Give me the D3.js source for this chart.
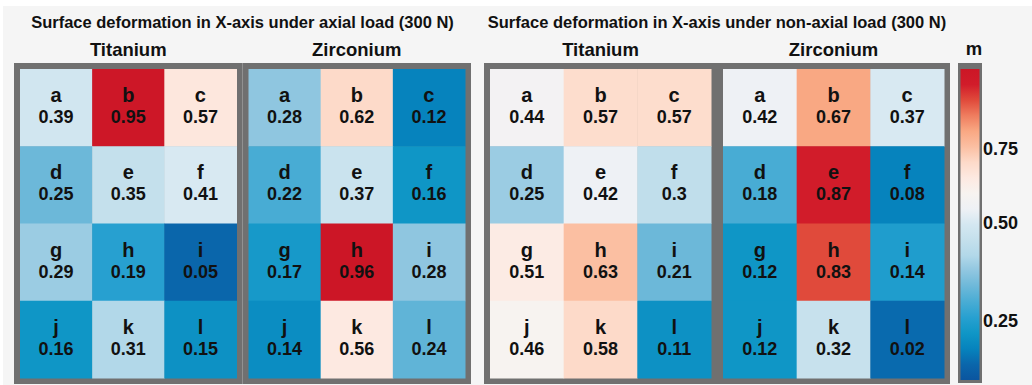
<!DOCTYPE html>
<html>
<head>
<meta charset="utf-8">
<script src="https://cdn.jsdelivr.net/npm/d3@7"></script>
<style>
  body { margin: 0; background: #ffffff; }
  svg { display: block; }
  text { font-family: "Liberation Sans", Arial, sans-serif; fill: #111; }
</style>
</head>
<body>
<svg id="chart" width="1032" height="385"></svg>
<script>
// ---- data ----------------------------------------------------------------
const cellLabels = ["a", "b", "c", "d", "e", "f", "g", "h", "i", "j", "k", "l"];
const materials = ["Titanium", "Zirconium"];
const loadTitles = [
  "Surface deformation in X-axis under axial load (300 N)",
  "Surface deformation in X-axis under non-axial load (300 N)"
];
const axialTitanium     = [0.39, 0.95, 0.57, 0.25, 0.35, 0.41, 0.29, 0.19, 0.05, 0.16, 0.31, 0.15];
const axialZirconium    = [0.28, 0.62, 0.12, 0.22, 0.37, 0.16, 0.17, 0.96, 0.28, 0.14, 0.56, 0.24];
const nonAxialTitanium  = [0.44, 0.57, 0.57, 0.25, 0.42, 0.30, 0.51, 0.63, 0.21, 0.46, 0.58, 0.11];
const nonAxialZirconium = [0.42, 0.67, 0.37, 0.18, 0.87, 0.08, 0.12, 0.83, 0.14, 0.12, 0.32, 0.02];
const legendTicks = [0.25, 0.50, 0.75];
const legendUnit = "m";

// ---- colour ramp (blue = small, red = large) -----------------------------
const rampValues = [0.02, 0.05, 0.12, 0.16, 0.19, 0.22, 0.25, 0.28, 0.31, 0.35, 0.40,
                    0.46, 0.50, 0.56, 0.62, 0.67, 0.71, 0.78, 0.87, 0.91, 0.96];
const rampColors = ["#0b559f", "#0a66ab", "#0683bd", "#0f96c6", "#27a0d0", "#48acd4",
                    "#6cb8d9", "#8fc6e0", "#b2d8e9", "#c4e0ec", "#d4e7f1", "#eef1f5",
                    "#f7f3f0", "#fde9e1", "#fddac9", "#fbbfa2", "#f9a883", "#ef7d5f",
                    "#e04a3b", "#d11c2a", "#cc1626"];

// each load case has its own colour mapping; the non-axial one is shifted down
const loadShift = [0, -0.04];
const colorScales = loadShift.map(s =>
  d3.scaleLinear().domain(rampValues.map(v => v + s)).range(rampColors).clamp(true));

const grids = [[axialTitanium, axialZirconium], [nonAxialTitanium, nonAxialZirconium]];

// ---- layout --------------------------------------------------------------
const W = 1032, H = 385;
const svg = d3.select("#chart");
const border = 6;
const boxTop = 63, boxBottom = 384;
const groupRanges = [[14, 471], [484, 950]];
const gray = "#707070";

svg.append("rect").attr("x", 3).attr("y", 6).attr("width", W - 3).attr("height", H - 6)
  .attr("fill", "#f5f5f5");

const rowScale = d3.scaleBand().domain(d3.range(4))
  .range([boxTop + border, boxBottom - border]);

groupRanges.forEach((range, gi) => {
  const matScale = d3.scaleBand().domain(materials).range(range);
  const g = svg.append("g");

  g.append("text")
    .attr("x", (range[0] + range[1]) / 2).attr("y", 28)
    .attr("text-anchor", "middle")
    .attr("font-size", 16.5).attr("font-weight", "bold")
    .text(loadTitles[gi]);

  materials.forEach((mat, mi) => {
    const x0 = matScale(mat), bw = matScale.bandwidth();
    g.append("text")
      .attr("x", x0 + bw / 2).attr("y", 56)
      .attr("text-anchor", "middle")
      .attr("font-size", 18.5).attr("font-weight", "bold")
      .text(mat);

    g.append("rect")
      .attr("x", x0).attr("y", boxTop)
      .attr("width", bw).attr("height", boxBottom - boxTop)
      .attr("fill", gray);

    const colScale = d3.scaleBand().domain(d3.range(3))
      .range([x0 + border, x0 + bw - border]);
    const values = grids[gi][mi];
    const color = colorScales[gi];

    const cells = g.selectAll(null)
      .data(values.map((v, i) => ({ v, label: cellLabels[i], r: Math.floor(i / 3), c: i % 3 })))
      .join("g")
      .attr("transform", d => `translate(${colScale(d.c)},${rowScale(d.r)})`);

    cells.append("rect")
      .attr("width", colScale.bandwidth() + 0.5)
      .attr("height", rowScale.bandwidth() + 0.5)
      .attr("fill", d => color(d.v));

    cells.append("text")
      .attr("x", colScale.bandwidth() / 2).attr("y", 33)
      .attr("text-anchor", "middle")
      .attr("font-size", 20).attr("font-weight", "bold")
      .text(d => d.label);

    cells.append("text")
      .attr("x", colScale.bandwidth() / 2).attr("y", 54)
      .attr("text-anchor", "middle")
      .attr("font-size", 18).attr("font-weight", "bold")
      .text(d => String(d.v));
  });
});

// ---- colour bar ----------------------------------------------------------
const barX = 958, barW = 24, barSide = 2.5;
const barInnerTop = boxTop + border, barInnerBottom = 380;

svg.append("rect")
  .attr("x", barX).attr("y", boxTop)
  .attr("width", barW).attr("height", boxBottom - 1 - boxTop)
  .attr("fill", gray);

const defs = svg.append("defs");
const grad = defs.append("linearGradient").attr("id", "ramp")
  .attr("x1", 0).attr("y1", 1).attr("x2", 0).attr("y2", 0);
grad.selectAll("stop").data(rampColors).join("stop")
  .attr("offset", (d, i) => i / (rampColors.length - 1))
  .attr("stop-color", d => d);

svg.append("rect")
  .attr("x", barX + barSide).attr("y", barInnerTop)
  .attr("width", barW - 2 * barSide).attr("height", barInnerBottom - barInnerTop)
  .attr("fill", "url(#ramp)");

const legendScale = d3.scalePow().exponent(0.5)
  .domain([0.14, 1.07]).range([barInnerBottom, barInnerTop]);

const axis = svg.append("g")
  .attr("transform", `translate(${barX + barW},0)`)
  .call(d3.axisRight(legendScale).tickValues(legendTicks).tickSize(0).tickPadding(1)
    .tickFormat(d3.format(".2f")));
axis.select(".domain").remove();
axis.selectAll("text")
  .attr("font-size", 18).attr("font-weight", "bold")
  .style("font-family", "\"Liberation Sans\", Arial, sans-serif")
  .attr("fill", "#111");

svg.append("text")
  .attr("x", barX + barW / 2 + 4).attr("y", 55)
  .attr("text-anchor", "middle")
  .attr("font-size", 18.5).attr("font-weight", "bold")
  .text(legendUnit);
</script>
</body>
</html>
